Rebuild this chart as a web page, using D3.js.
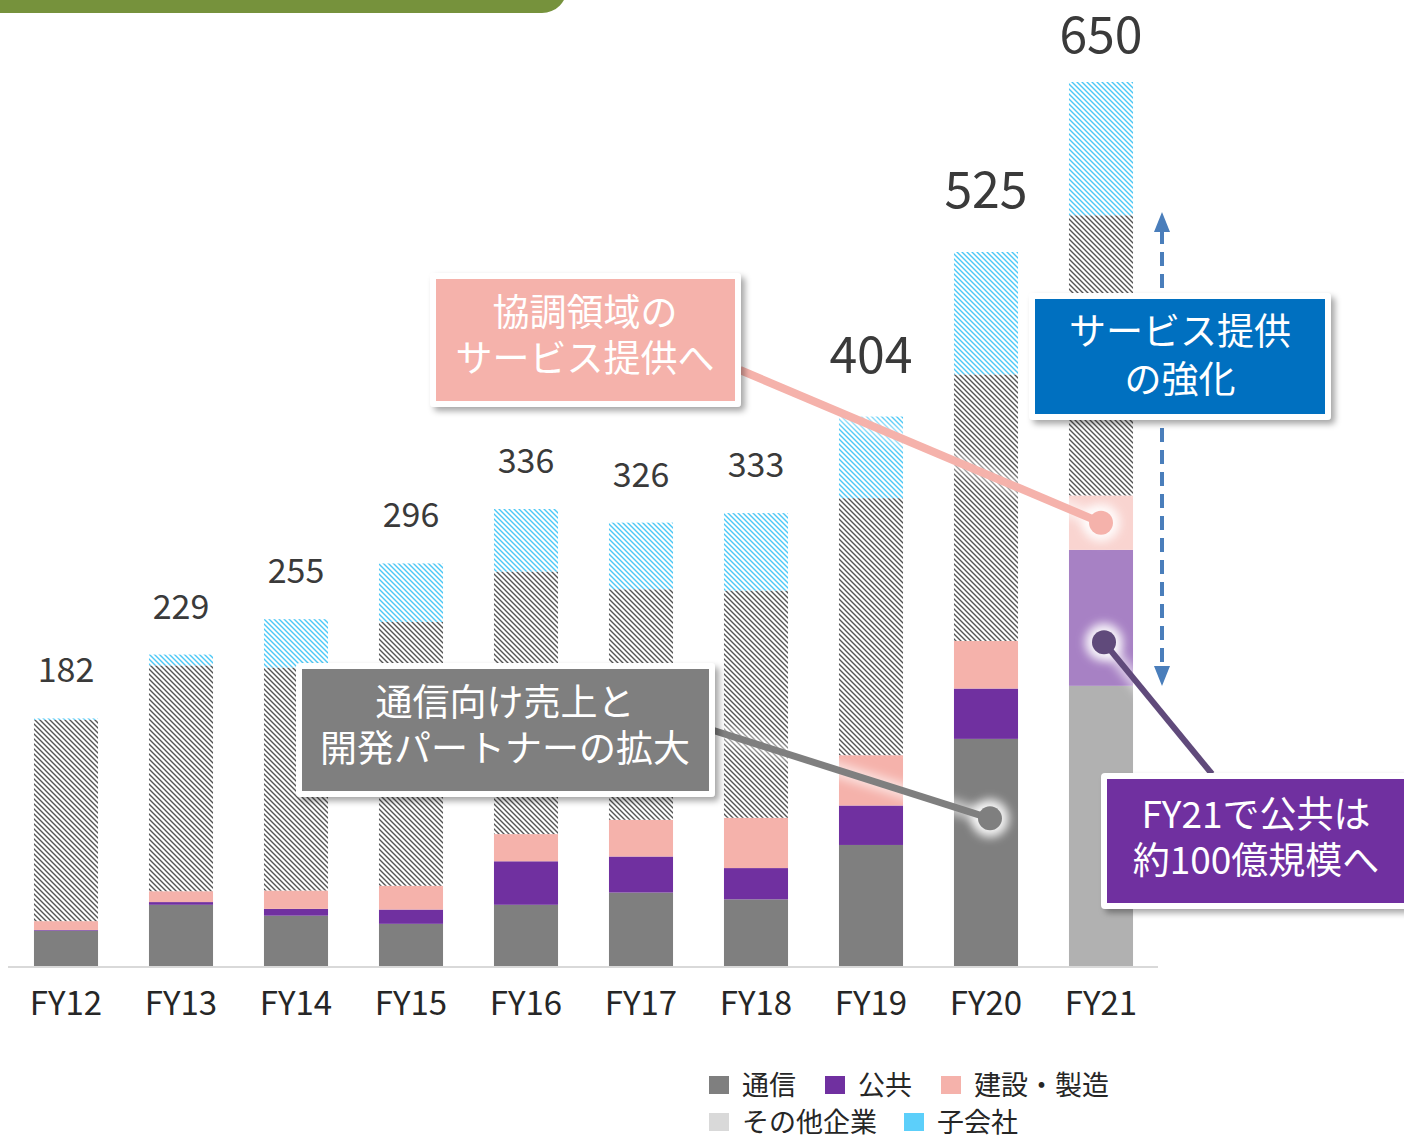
<!DOCTYPE html>
<html>
<head>
<meta charset="utf-8">
<script src="https://cdn.jsdelivr.net/npm/d3@7"></script>
<style>
  html, body { margin: 0; padding: 0; background: #fff; }
  svg { display: block; font-family: "Noto Sans CJK JP", "Noto Sans", sans-serif; }
</style>
</head>
<body>
<div id="chart-wrap"></div>
<script>
// data (億円)
const years = ['FY12', 'FY13', 'FY14', 'FY15', 'FY16', 'FY17', 'FY18', 'FY19', 'FY20', 'FY21'];
const tsushin  = [26, 45, 37, 31, 45, 54, 49, 89, 167, 206];
const kokyo    = [0.5, 2, 5, 10.5, 32, 26.5, 23, 29, 37, 100];
const kensetsu = [6.5, 8, 13.5, 17.5, 20, 27, 37, 37, 35, 40];
const sonota   = [148, 166, 164, 194, 193, 169.5, 167, 189, 196, 206];
const kogaisha = [1, 8, 35.5, 43, 46, 49, 57, 60, 90, 98];
const totals   = [182, 229, 255, 296, 336, 326, 333, 404, 525, 650];
const seriesKeys  = ['tsushin', 'kokyo', 'kensetsu', 'sonota', 'kogaisha'];
const seriesNames = ['通信', '公共', '建設・製造', 'その他企業', '子会社'];

const width = 1404;
const height = 1136;

const colors = {
  tsushin: '#7f7f7f',
  kokyo: '#7030a0',
  kensetsu: '#f5b2ab',
  sonota: 'url(#hatchGray)',
  kogaisha: 'url(#hatchBlue)'
};
// FY21 is the plan year -> lighter fills
const colorsPlan = {
  tsushin: '#b1b1b1',
  kokyo: '#a781c4',
  kensetsu: '#f9d4d0',
  sonota: 'url(#hatchGray)',
  kogaisha: 'url(#hatchBlue)'
};
const legendColors = ['#7f7f7f', '#7030a0', '#f5b2ab', '#d9d9d9', '#5ccffa'];

const rows = years.map((y, i) => ({
  year: y,
  tsushin: tsushin[i],
  kokyo: kokyo[i],
  kensetsu: kensetsu[i],
  sonota: sonota[i],
  kogaisha: kogaisha[i],
  total: totals[i]
}));

const x = d3.scaleBand()
  .domain(years)
  .range([8.5, 1158.5])
  .paddingInner(0.443)
  .paddingOuter(0.2215);

const y = d3.scaleLinear()
  .domain([0, 650])
  .range([966, 82]);

const stack = d3.stack().keys(seriesKeys);
const stacked = stack(rows);

const svg = d3.select('#chart-wrap').append('svg')
  .attr('width', width)
  .attr('height', height);

const defs = svg.append('defs');

// hatch patterns
const makeHatch = (id, color) => {
  const p = defs.append('pattern')
    .attr('id', id)
    .attr('patternUnits', 'userSpaceOnUse')
    .attr('width', 5)
    .attr('height', 5);
  p.append('rect').attr('width', 5).attr('height', 5).attr('fill', '#fff');
  p.append('path')
    .attr('d', 'M-1,4 l2,2 M0,0 l5,5 M4,-1 l2,2')
    .attr('stroke', color)
    .attr('stroke-width', 1.4);
};
makeHatch('hatchGray', '#555555');
makeHatch('hatchBlue', '#4cc8f6');

// shadow for callout boxes
const shadow = defs.append('filter')
  .attr('id', 'shadow')
  .attr('x', '-10%').attr('y', '-10%')
  .attr('width', '130%').attr('height', '140%');
shadow.append('feDropShadow')
  .attr('dx', 4).attr('dy', 4)
  .attr('stdDeviation', 3)
  .attr('flood-color', '#000')
  .attr('flood-opacity', 0.35);

const glow = defs.append('filter')
  .attr('id', 'glow')
  .attr('x', '-50%').attr('y', '-50%')
  .attr('width', '200%').attr('height', '200%');
glow.append('feGaussianBlur').attr('stdDeviation', 5);

// green header strip
svg.append('rect')
  .attr('x', -40).attr('y', -50)
  .attr('width', 607).attr('height', 63)
  .attr('rx', 25)
  .attr('fill', '#76923c');

// bars
const barG = svg.append('g');
stacked.forEach((layer) => {
  barG.selectAll(null)
    .data(layer)
    .enter()
    .append('rect')
    .attr('x', d => x(d.data.year))
    .attr('width', x.bandwidth())
    .attr('y', d => y(d[1]))
    .attr('height', d => Math.max(0, y(d[0]) - y(d[1])))
    .attr('fill', d => d.data.year === 'FY21' ? colorsPlan[layer.key] : colors[layer.key]);
});

// x axis line
svg.append('line')
  .attr('x1', 8).attr('x2', 1158)
  .attr('y1', 967).attr('y2', 967)
  .attr('stroke', '#d9d9d9')
  .attr('stroke-width', 2);

// x labels
svg.selectAll('.xlab')
  .data(years)
  .enter()
  .append('text')
  .attr('class', 'xlab')
  .attr('x', d => x(d) + x.bandwidth() / 2)
  .attr('y', 1015)
  .attr('text-anchor', 'middle')
  .attr('font-size', 33)
  .attr('fill', '#262626')
  .text(d => d);

// total labels
svg.selectAll('.total')
  .data(rows)
  .enter()
  .append('text')
  .attr('class', 'total')
  .attr('x', d => x(d.year) + x.bandwidth() / 2)
  .attr('y', (d, i) => i >= 7 ? Math.max(53, y(d.total) - 44) : y(d.total) - 36)
  .attr('text-anchor', 'middle')
  .attr('font-size', (d, i) => i >= 7 ? 50 : 34)
  .attr('fill', '#3a3a3a')
  .text(d => d.total);

// dashed arrow for FY21 service growth
const arrowX = 1162;
svg.append('line')
  .attr('x1', arrowX).attr('x2', arrowX)
  .attr('y1', 230).attr('y2', 668)
  .attr('stroke', '#4a7ebb')
  .attr('stroke-width', 4)
  .attr('stroke-dasharray', '14 8');
svg.append('path')
  .attr('d', `M${arrowX},212 L${arrowX - 8},232 L${arrowX + 8},232 Z`)
  .attr('fill', '#4a7ebb');
svg.append('path')
  .attr('d', `M${arrowX},686 L${arrowX - 8},666 L${arrowX + 8},666 Z`)
  .attr('fill', '#4a7ebb');

// leader lines + dots
const cx = yr => x(yr) + x.bandwidth() / 2;
const i21 = years.indexOf('FY21');
const i20 = years.indexOf('FY20');
const leaders = [
  { from: [740, 370], to: [cx('FY21'), y(tsushin[i21] + kokyo[i21] + kensetsu[i21] / 2)], color: '#f5b2ab', w: 8 },
  { from: [712, 730], to: [cx('FY20') + 4, y(tsushin[i20] * 0.65)], color: '#7f7f7f', w: 7 },
  { from: [1212, 774], to: [cx('FY21') + 3, y(tsushin[i21] + kokyo[i21] * 0.32)], color: '#604a7b', w: 6 }
];
const leadG = svg.append('g');
leaders.forEach(l => {
  leadG.append('circle')
    .attr('cx', l.to[0]).attr('cy', l.to[1])
    .attr('r', 19)
    .attr('fill', '#fff')
    .attr('opacity', 0.9)
    .attr('filter', 'url(#glow)');
  leadG.append('line')
    .attr('x1', l.from[0]).attr('y1', l.from[1])
    .attr('x2', l.to[0]).attr('y2', l.to[1])
    .attr('stroke', '#fff')
    .attr('stroke-opacity', 0.6)
    .attr('stroke-width', l.w + 8)
    .attr('filter', 'url(#glow)');
});
leaders.forEach(l => {
  leadG.append('line')
    .attr('x1', l.from[0]).attr('y1', l.from[1])
    .attr('x2', l.to[0]).attr('y2', l.to[1])
    .attr('stroke', l.color)
    .attr('stroke-width', l.w);
  leadG.append('circle')
    .attr('cx', l.to[0]).attr('cy', l.to[1])
    .attr('r', 12)
    .attr('fill', l.color);
});

// callout boxes
const callouts = [
  { x: 430, y: 273, w: 311, h: 134, fill: '#f5b2ab', lines: ['協調領域の', 'サービス提供へ'], ty: [326, 372], tx: 585 },
  { x: 296, y: 663, w: 419, h: 134, fill: '#7f7f7f', lines: ['通信向け売上と', '開発パートナーの拡大'], ty: [716, 762], tx: 505 },
  { x: 1029, y: 293, w: 302, h: 127, fill: '#0070c0', lines: ['サービス提供', 'の強化'], ty: [345, 393], tx: 1180 },
  { x: 1101, y: 773, w: 330, h: 136, fill: '#7030a0', lines: ['FY21で公共は', '約100億規模へ'], ty: [828, 874], tx: 1256 }
];
const boxG = svg.append('g');
callouts.forEach(c => {
  const g = boxG.append('g');
  g.append('rect')
    .attr('x', c.x).attr('y', c.y)
    .attr('width', c.w).attr('height', c.h)
    .attr('rx', 4)
    .attr('fill', '#fff')
    .attr('filter', 'url(#shadow)');
  g.append('rect')
    .attr('x', c.x + 6).attr('y', c.y + 6)
    .attr('width', c.w - 12).attr('height', c.h - 12)
    .attr('fill', c.fill);
  c.lines.forEach((t, k) => {
    g.append('text')
      .attr('x', c.tx)
      .attr('y', c.ty[k])
      .attr('text-anchor', 'middle')
      .attr('font-size', 37)
      .attr('fill', '#fff')
      .text(t);
  });
});

// legend
const legendPos = [
  { x: 709, y: 1085 }, { x: 825, y: 1085 }, { x: 941, y: 1085 },
  { x: 709, y: 1122 }, { x: 904, y: 1122 }
];
const legend = svg.append('g');
seriesNames.forEach((name, i) => {
  legend.append('rect')
    .attr('x', legendPos[i].x)
    .attr('y', legendPos[i].y - 9)
    .attr('width', 20).attr('height', 18)
    .attr('fill', legendColors[i]);
  legend.append('text')
    .attr('x', legendPos[i].x + 33)
    .attr('y', legendPos[i].y + 10)
    .attr('font-size', 27)
    .attr('fill', '#262626')
    .text(name);
});
</script>
</body>
</html>
